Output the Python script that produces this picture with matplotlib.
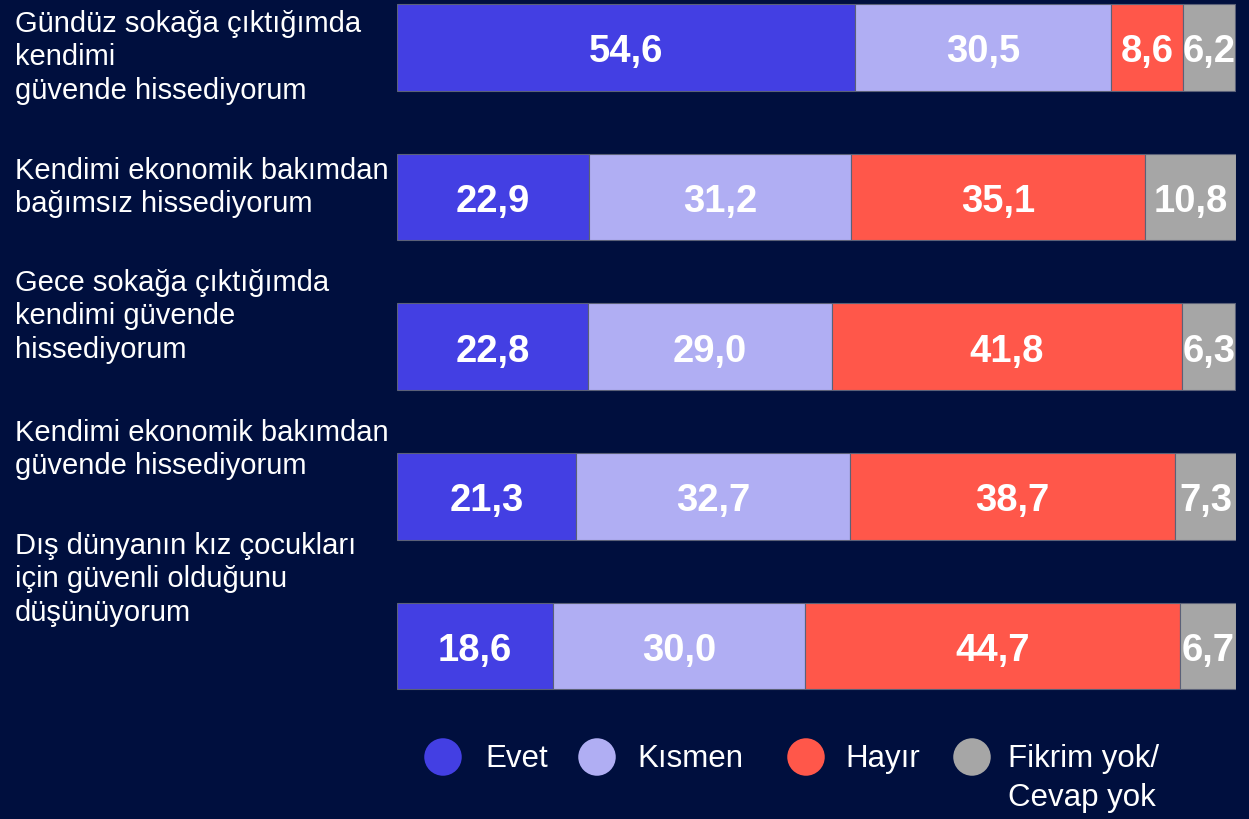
import matplotlib.pyplot as plt
import numpy as np

plt.rcParams['font.family'] = ['Liberation Sans', 'DejaVu Sans']

sorular = [
    'Gündüz sokağa çıktığımda\nkendimi\ngüvende hissediyorum',
    'Kendimi ekonomik bakımdan\nbağımsız hissediyorum',
    'Gece sokağa çıktığımda\nkendimi güvende\nhissediyorum',
    'Kendimi ekonomik bakımdan\ngüvende hissediyorum',
    'Dış dünyanın kız çocukları\niçin güvenli olduğunu\ndüşünüyorum',
]
evet = [54.6, 22.9, 22.8, 21.3, 18.6]
kismen = [30.5, 31.2, 29.0, 32.7, 30.0]
hayir = [8.6, 35.1, 41.8, 38.7, 44.7]
fikrim_yok = [6.2, 10.8, 6.3, 7.3, 6.7]

kategoriler = ['Evet', 'Kısmen', 'Hayır', 'Fikrim yok/\nCevap yok']
renkler = ['#433FE3', '#B0AEF3', '#FF574A', '#A6A6A6']
arka_plan = '#000F3E'

W, H = 1249, 820
fig = plt.figure(figsize=(W / 100, H / 100), dpi=100, facecolor=arka_plan)

# bar area in pixels: x 397..1236, row centers 48.5 + 149.6*i
ax = fig.add_axes([397 / W, 1 - 720 / H, 839 / W, 720 / H])
ax.set_facecolor(arka_plan)
y = np.arange(len(sorular))
sol = np.zeros(len(sorular))
for seri, renk in zip([evet, kismen, hayir, fikrim_yok], renkler):
    seri = np.array(seri)
    bars = ax.barh(y, seri, left=sol, height=0.58, color=renk,
                   edgecolor='#5b6178', linewidth=0.8)
    for b, v in zip(bars, seri):
        ax.text(b.get_x() + b.get_width() / 2, b.get_y() + b.get_height() / 2,
                f'{v:.1f}'.replace('.', ','), color='white', fontsize=27.5,
                fontweight='bold', ha='center', va='center_baseline')
    sol += seri
ax.set_xlim(0, 100)
ax.set_ylim((720 - 48.5) / 149.6, -48.5 / 149.6)
ax.axis('off')

# overlay in pixel coords for labels and legend
ov = fig.add_axes([0, 0, 1, 1])
ov.set_xlim(0, W)
ov.set_ylim(H, 0)
ov.axis('off')

etiket_ust = [10, 157, 269, 419, 532]
for metin, ust in zip(sorular, etiket_ust):
    ov.text(15, ust, metin, color='white', fontsize=21, ha='left', va='top',
            linespacing=1.24)

lej_x = [443, 597, 806, 972]
lej_bosluk = [42, 40, 39, 36]
for kat, renk, lx, bos in zip(kategoriler, renkler, lej_x, lej_bosluk):
    ov.scatter([lx], [758], s=27 ** 2, color=renk, edgecolors='none')
    ov.text(lx + bos, 744, kat, color='white', fontsize=22.5, ha='left',
            va='top', linespacing=1.38)

fig.savefig('out.png', dpi=100, facecolor=arka_plan)
